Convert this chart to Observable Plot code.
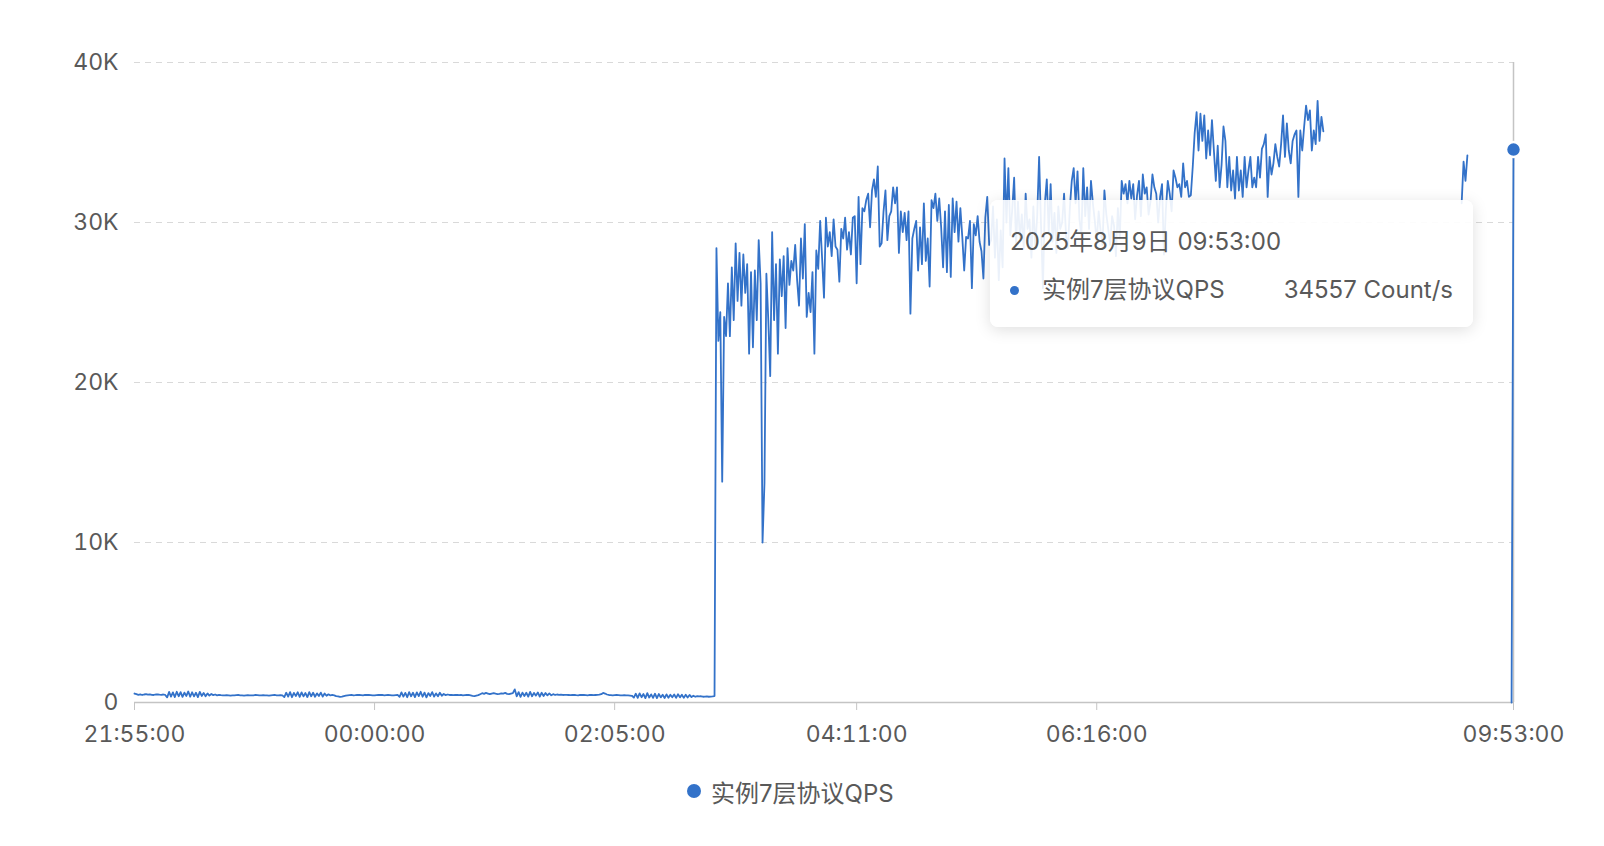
<!DOCTYPE html>
<html>
<head>
<meta charset="utf-8">
<script src="https://cdn.jsdelivr.net/npm/d3@7"></script>
<script src="https://cdn.jsdelivr.net/npm/@observablehq/plot@0.6"></script>
<style>
html, body { margin: 0; padding: 0; background: #fff; }
body { width: 1604px; height: 846px; position: relative; overflow: hidden;
  font-family: Inter, "Noto Sans CJK SC", sans-serif; color: #595959; }
#chart { position: absolute; left: 0; top: 0; }
#tip { position: absolute; box-sizing: border-box; width: 483px; height: 127px;
  background: rgba(255,255,255,0.9); border-radius: 8px;
  box-shadow: 0 3px 16px rgba(0,0,0,0.13); }
#tip .title { position: absolute; left: 20px; top: 27px; font-size: 24px; line-height: 30px; white-space: nowrap; }
#tip .dot { position: absolute; left: 20px; top: 86px; width: 9px; height: 9px; border-radius: 50%; }
#tip .name { position: absolute; left: 52px; top: 75px; font-size: 24px; line-height: 30px; white-space: nowrap; }
#tip .val { position: absolute; right: 20px; top: 75px; font-size: 24px; line-height: 30px; white-space: nowrap; }
#legend { position: absolute; left: 687px; top: 769px; height: 44px; display: flex; align-items: center;
  font-size: 24px; white-space: nowrap; }
#legend .dot { width: 14px; height: 14px; border-radius: 50%; margin-right: 10px; }
</style>
</head>
<body>
<div id="chart"></div>
<script>
// ---------- data ----------
const seriesName = "实例7层协议QPS";
const unit = "Count/s";
const lineColor = "#3372c9";
const startTime = "2025-08-08T21:55:00Z";
const endTime = "2025-08-09T09:53:00Z";
const xTickTimes = ["2025-08-08T21:55:00Z", "2025-08-09T00:00:00Z", "2025-08-09T02:05:00Z",
  "2025-08-09T04:11:00Z", "2025-08-09T06:16:00Z", "2025-08-09T09:53:00Z"];
const xTickLabels = ["21:55:00", "00:00:00", "02:05:00", "04:11:00", "06:16:00", "09:53:00"];
const yTicks = [0, 10000, 20000, 30000, 40000];
const yTickLabels = ["0", "10K", "20K", "30K", "40K"];

// one value per minute from 21:55 (quiet period)
const lowQps = [
560,520,480,510,470,500,520,490,510,480,470,500,510,490,480,500,470,
320,660,370,630,340,670,390,650,350,620,410,690,360,640,380,610,340,660,410,600,390,570,430,530,460,500,450,480,460,
450,440,460,450,430,440,450,460,470,450,440,430,450,460,450,440,450,470,460,440,450,460,450,440,430,450,460,470,450,440,460,450,
340,610,370,650,330,600,400,640,350,630,380,590,340,650,390,610,360,570,410,620,370,560,420,510,440,470,450,400,380,350,370,400,430,450,
460,470,450,460,480,470,460,450,470,480,470,460,450,440,460,470,480,470,450,460,470,460,440,450,460,470,
350,630,370,600,330,650,390,610,340,630,400,670,360,620,320,590,410,650,370,570,390,610,420,530,460,500,470,480,460,
470,480,460,470,450,460,470,480,450,420,400,430,460,
520,580,540,600,560,520,560,590,550,520,540,570,560,600,540,520,560,580,
820,
390,650,350,620,410,610,370,660,390,600,430,630,370,610,410,590,450,570,450,520,470,500,480,490,470,480,
480,470,460,470,480,460,450,470,480,470,460,450,470,480,460,470,480,490,520,600,560,500,470,460,450,460,470,460,440,450,460,450,440,430,420,
310,550,290,570,330,530,270,590,310,510,290,550,270,530,320,490,280,510,300,480,330,500,290,520,320,480,290,490,310,470,340,420,360,400,380,390,360,370,380,360,370,380,400
];

// one value per minute, continuing right after lowQps (busy period)
const highQps = [
28400,22600,24400,13800,24100,22900,26200,22900,27200,23900,
28700,25100,28100,24800,28000,25600,27400,21800,26900,22200,
27000,23900,28900,26200,10000,13700,26800,23900,20400,29400,
23900,27400,21800,27700,25400,27900,23400,28400,26100,27600,
27000,28600,26400,24800,29000,26500,29900,24100,25600,24400,26900,
21800,28250,27100,30100,27800,25300,30300,28500,29400,27900,30200,
28500,28300,26300,29600,29000,30300,28300,29400,28000,30300,
30400,26200,
31600,27400,30900,30700,31400,31800,29700,32000,32700,31600,
33500,28500,28700,30700,32000,28900,30400,30700,32200,31200,
32200,28100,30700,29400,30600,28900,30700,24300,29000,29600,
30100,27000,29700,27400,31200,27600,29000,26000,31400,30900,
31800,30100,31500,29700,27200,30700,26900,31100,26600,31500,
29400,31300,28800,30900,29100,27000,29100,29000,30100,25900,
29900,29200,30400,28800,28200,26500,30300,31600,28600,
28900,31000,27800,30200,26400,29500,27200,34000,30000,33400,
29200,30800,32800,28600,31300,29000,30500,28400,31800,29600,
30200,27800,31000,28500,30400,34100,29800,25900,31200,32700,
29400,32400,28800,30600,28100,31000,29600,30000,31800,29200,
28400,30900,32600,33400,31200,33200,30200,29200,33400,30400,
32200,29600,32600,31200,30100,28800,30700,29500,28600,32000,
30500,29600,28600,30400,29800,27900,30900,29000,32600,31800,
32400,31200,32600,31500,32400,30200,31700,32600,30400,33000,
31800,32200,30500,31300,33000,32200,31800,30000,31600,32400,
28000,30800,32600,31800,30700,33250,32800,32200,32400,31600,
33700,32200,32600,31600,31700,33500,35600,
36900,34500,36800,35100,36700,34000,35750,34200,36400,34500,
32600,34800,32200,33600,36000,35100,32200,34100,32000,33250,
31500,34100,32000,33250,31600,34100,32200,33250,34100,32200,
32800,32200,34100,32800,34600,34900,35500,31600,34100,33000,
33700,34900,34100,33500,34900,36700,34100,36200,34500,33700,
35100,35500,35750,31600,35750,34500,36000,37300,36400,37000,
34500,35750,34900,37600,35100,36600,35700
];

const tailStart = "2025-08-09T09:26:00Z";
const tailQps = [31200, 33800, 32600, 34200];
const lastStart = "2025-08-09T09:52:00Z";
const lastQps = [0, 34557];

// ---------- build table ----------
const MIN = 60000;
function seg(start, values) {
  const t0 = new Date(start).getTime();
  return values.map((v, i) => ({time: new Date(t0 + i * MIN), value: v}));
}
function breakAfter(rows) {
  return {time: new Date(rows[rows.length - 1].time.getTime() + MIN), value: NaN};
}
const run1 = seg(startTime, lowQps.concat(highQps));
const run2 = seg(tailStart, tailQps);
const run3 = seg(lastStart, lastQps);
const data = [...run1, breakAfter(run1), ...run2, breakAfter(run2), ...run3];
const lastPoint = run3[run3.length - 1];

const x0 = new Date(startTime), x1 = new Date(endTime);
const xt = xTickTimes.map(d => new Date(d));

const chart = Plot.plot({
  width: 1604,
  height: 770,
  marginLeft: 134,
  marginRight: 91,
  marginTop: 62,
  marginBottom: 68,
  style: {fontFamily: 'Inter, "Noto Sans CJK SC", sans-serif', fontSize: "23px", color: "#595959", background: "transparent", overflow: "visible"},
  x: {type: "utc", domain: [x0, x1]},
  y: {domain: [0, 40000]},
  marks: [
    Plot.gridY(yTicks.slice(1), {stroke: "#d9d9d9", strokeOpacity: 1, strokeDasharray: "6 5"}),
    Plot.ruleX([x1], {y1: 0, y2: 40000, stroke: "#c4c4c4", strokeWidth: 1.5}),
    Plot.axisY(yTicks, {tickSize: 0, tickPadding: 16, label: null, fill: "#595959",
      tickFormat: d => yTickLabels[yTicks.indexOf(d)]}),
    Plot.axisX(xt, {tickSize: 8, tickPadding: 15, label: null, stroke: "#c4c4c4", fill: "#595959",
      tickFormat: d => xTickLabels[xt.findIndex(t => +t === +d)]}),
    Plot.ruleY([0], {stroke: "#c4c4c4", strokeWidth: 1.5}),
    Plot.lineY(data, {x: "time", y: "value", stroke: lineColor, strokeWidth: 1.8}),
    Plot.dot([lastPoint], {x: "time", y: "value", r: 7.5, fill: lineColor, stroke: "#fff", strokeWidth: 2.5})
  ]
});
document.getElementById("chart").appendChild(chart);

// ---------- tooltip overlay ----------
const px = chart.scale("x").apply(lastPoint.time);
const tip = document.createElement("div");
tip.id = "tip";
tip.style.left = (px - 523) + "px";
tip.style.top = "200px";
const fmt = d3.utcFormat("%Y年%-m月%-d日 %H:%M:%S");
tip.innerHTML = `<div class="title">${fmt(lastPoint.time)}</div>
<div class="dot" style="background:${lineColor}"></div>
<div class="name">${seriesName}</div>
<div class="val">${lastPoint.value} ${unit}</div>`;
document.body.appendChild(tip);

// ---------- legend ----------
const legend = document.createElement("div");
legend.id = "legend";
legend.innerHTML = `<div class="dot" style="background:${lineColor}"></div><span>${seriesName}</span>`;
document.body.appendChild(legend);
</script>
</body>
</html>
